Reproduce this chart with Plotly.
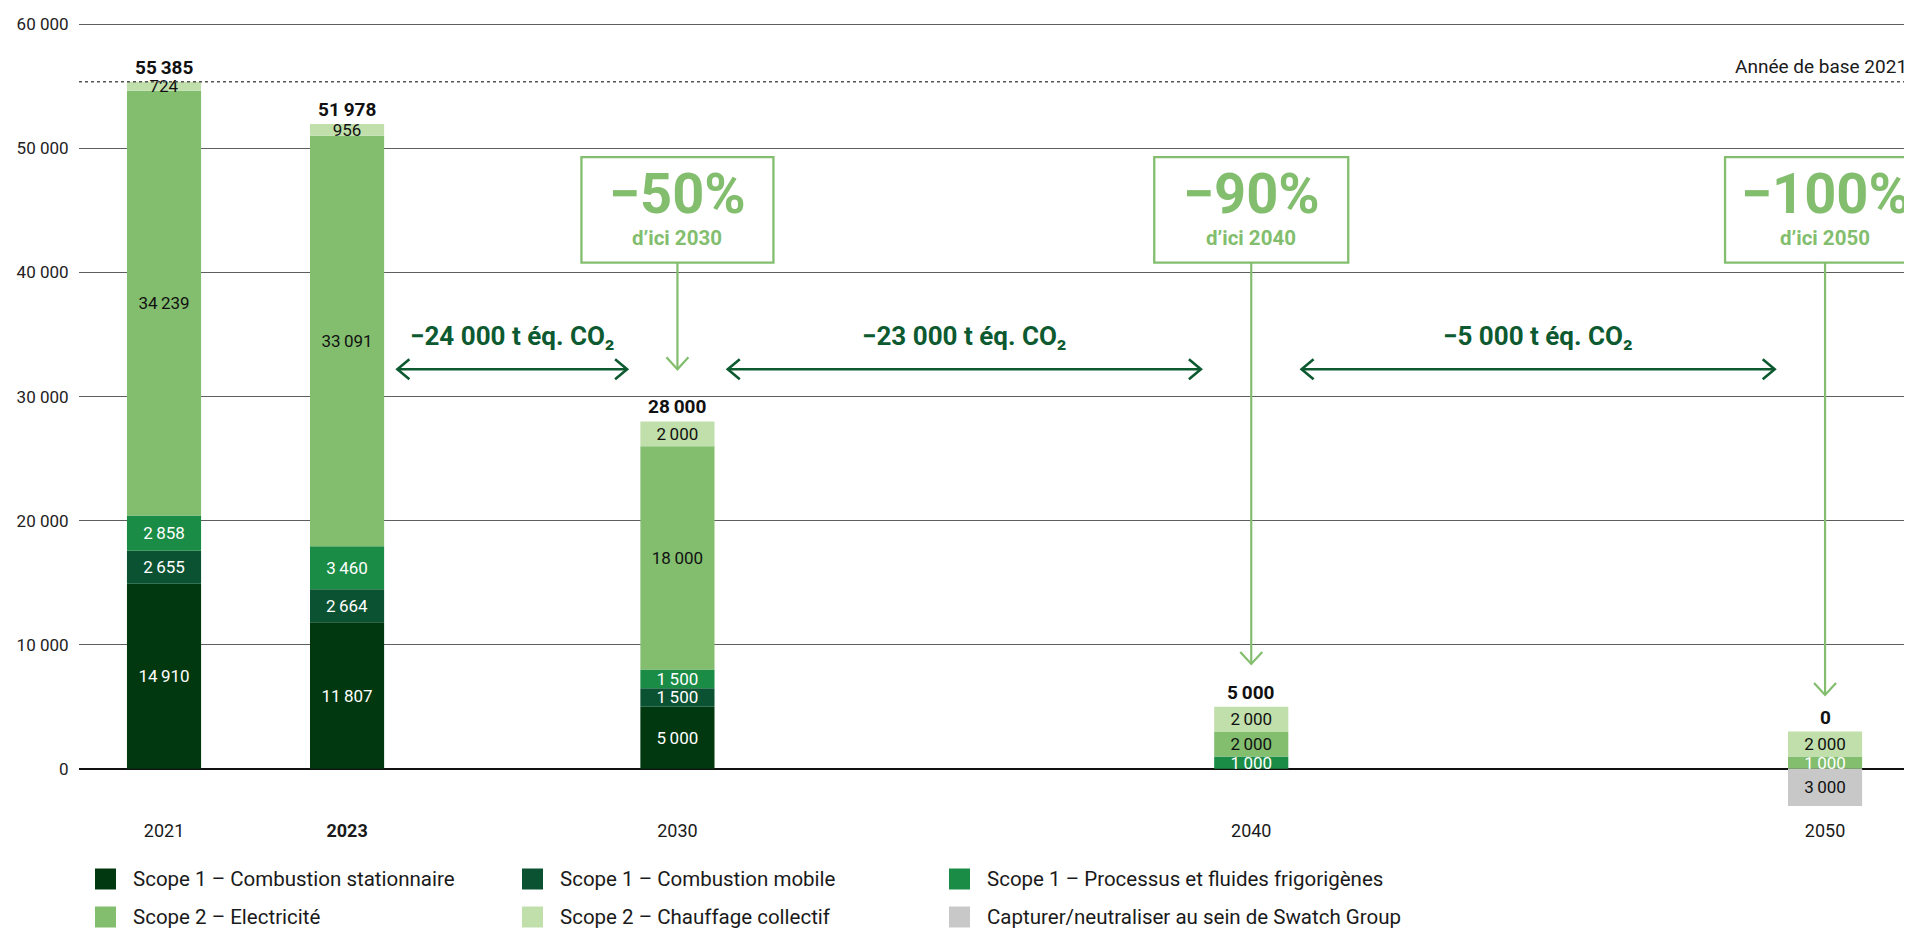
import plotly.graph_objects as go

# ---------------- data ----------------
YEARS = ["2021", "2023", "2030", "2040", "2050"]
X_SLOT = [0.0, 2.0, 5.61, 11.88, 18.15]          # horizontal slot of each year column
BOLD_YEAR = "2023"

SERIES = [
    "Scope 1 – Combustion stationnaire",
    "Scope 1 – Combustion mobile",
    "Scope 1 – Processus et fluides frigorigènes",
    "Scope 2 – Electricité",
    "Scope 2 – Chauffage collectif",
    "Capturer/neutraliser au sein de Swatch Group",
]
stationnaire = [14910, 11807, 5000, None, None]
mobile = [2655, 2664, 1500, None, None]
processus = [2858, 3460, 1500, 1000, None]
electricite = [34239, 33091, 18000, 2000, 1000]
chauffage = [724, 956, 2000, 2000, 2000]
capture = [None, None, None, None, -3000]
TOTALS = [55385, 51978, 28000, 5000, 0]
BASE_YEAR_VALUE = 55385
BASE_YEAR_LABEL = "Année de base 2021"

TARGETS = [("2030", "−50%", "d’ici 2030"), ("2040", "−90%", "d’ici 2040"), ("2050", "−100%", "d’ici 2050")]
REDUCTIONS = [("2023", "2030", "−24 000 t éq. CO₂"),
              ("2030", "2040", "−23 000 t éq. CO₂"),
              ("2040", "2050", "−5 000 t éq. CO₂")]
Y_TICKS = [0, 10000, 20000, 30000, 40000, 50000, 60000]

# ---------------- styles ----------------
FONT = "Roboto"
COLORS = ["#02380f", "#0a5232", "#1a8c45", "#82be6e", "#c0dfab", "#c8c8c8"]
TEXT_COLORS = [
    ["white"] * 5,
    ["white"] * 5,
    ["white"] * 5,
    ["#111", "#111", "#111", "#111", "white"],
    ["#111"] * 5,
    ["#111"] * 5,
]
LIGHT_GREEN = "#82be6e"
DARK_GREEN = "#0d5a31"


def fmt(v, sep="\u2009"):
    return f"{abs(v):,}".replace(",", sep)


fig = go.Figure()
for name, vals, col, tcol in zip(SERIES, [stationnaire, mobile, processus, electricite, chauffage, capture],
                                 COLORS, TEXT_COLORS):
    fig.add_trace(go.Bar(
        x=X_SLOT, y=vals, name=name, width=0.81,
        marker=dict(color=col, line=dict(width=0)),
        text=[fmt(v) if v else "" for v in vals],
        textposition="inside", insidetextanchor="middle", textangle=0,
        textfont=dict(color=tcol, size=17, family=FONT),
        hoverinfo="skip", showlegend=False,
    ))

pos = dict(zip(YEARS, X_SLOT))
annotations = []
shapes = []

# totals above bars
all_series = [stationnaire, mobile, processus, electricite, chauffage, capture]
for i, (xs, tot) in enumerate(zip(X_SLOT, TOTALS)):
    top = sum(s[i] for s in all_series if s[i] is not None and s[i] > 0)
    annotations.append(dict(x=xs, y=top, xref="x", yref="y", text=f"<b>{fmt(tot)}</b>",
                            showarrow=False, yanchor="bottom", yshift=1,
                            font=dict(size=19, color="#111", family=FONT)))

# base year dotted line
shapes.append(dict(type="line", xref="paper", x0=0, x1=1, yref="y", y0=BASE_YEAR_VALUE, y1=BASE_YEAR_VALUE,
                   line=dict(color="#555", width=1.5, dash="dot"), layer="above"))
annotations.append(dict(x=1, xref="paper", y=BASE_YEAR_VALUE, yref="y", text=BASE_YEAR_LABEL,
                        showarrow=False, xanchor="right", yanchor="bottom", xshift=-3, yshift=2,
                        font=dict(size=19, color="#1a1a1a", family=FONT)))

# target boxes with down arrows
BOX_TOP, BOX_BOTTOM = 49300, 40800
BIG_Y, SUB_Y = 46300, 42800
TIP_Y = {"2030": 32200, "2040": 8450, "2050": 5950}
HALF_W = {"2030": 96, "2040": 97, "2050": 100}
for yr, big, sub in TARGETS:
    xs = pos[yr]
    shapes.append(dict(type="rect", xref="x", yref="y", xsizemode="pixel", xanchor=xs,
                       x0=-HALF_W[yr], x1=HALF_W[yr], y0=BOX_BOTTOM, y1=BOX_TOP,
                       line=dict(color=LIGHT_GREEN, width=2.3), fillcolor="rgba(0,0,0,0)", layer="above"))
    annotations.append(dict(x=xs, y=BIG_Y, xref="x", yref="y", text=f"<b>{big}</b>", showarrow=False,
                            font=dict(size=56, color=LIGHT_GREEN, family=FONT)))
    annotations.append(dict(x=xs, y=SUB_Y, xref="x", yref="y", text=f"<b>{sub}</b>", showarrow=False,
                            font=dict(size=20.5, color=LIGHT_GREEN, family=FONT)))
    shapes.append(dict(type="line", xref="x", yref="y", x0=xs, x1=xs, y0=BOX_BOTTOM, y1=TIP_Y[yr],
                       line=dict(color=LIGHT_GREEN, width=2.2), layer="above"))
    shapes.append(dict(type="path", xref="x", yref="y", xsizemode="pixel", ysizemode="pixel",
                       xanchor=xs, yanchor=TIP_Y[yr], path="M -11,12 L 0,0 L 11,12",
                       line=dict(color=LIGHT_GREEN, width=2.2), layer="above"))

# reduction double arrows
ARROW_Y, LABEL_Y, GAP = 32200, 34900, 0.55
for a, b, label in REDUCTIONS:
    x0, x1 = pos[a] + GAP, pos[b] - GAP
    shapes.append(dict(type="line", xref="x", yref="y", x0=x0, x1=x1, y0=ARROW_Y, y1=ARROW_Y,
                       line=dict(color=DARK_GREEN, width=2.6), layer="above"))
    shapes.append(dict(type="path", xref="x", yref="y", xsizemode="pixel", ysizemode="pixel",
                       xanchor=x0, yanchor=ARROW_Y, path="M 12,10 L 0,0 L 12,-10",
                       line=dict(color=DARK_GREEN, width=2.6), layer="above"))
    shapes.append(dict(type="path", xref="x", yref="y", xsizemode="pixel", ysizemode="pixel",
                       xanchor=x1, yanchor=ARROW_Y, path="M -12,10 L 0,0 L -12,-10",
                       line=dict(color=DARK_GREEN, width=2.6), layer="above"))
    annotations.append(dict(x=(x0 + x1) / 2, y=LABEL_Y, xref="x", yref="y", text=f"<b>{label}</b>",
                            showarrow=False, font=dict(size=26, color=DARK_GREEN, family=FONT)))

# page offset of the figure (default body margin) -> size the figure to fill the window
OFF = 8
W, H = 1912 - OFF, 932 - OFF
L, T, B = 79 - OFF, 12 - OFF, 126
PW, PH = W - L, H - T - B

# manual legend (3 per row), positions given in window pixels
COL_X = [95, 522, 949]
ROW_Y = [879, 917]
SQ = 21
for i, (name, col) in enumerate(zip(SERIES, COLORS)):
    cx, cy = COL_X[i % 3] - OFF, ROW_Y[i // 3] - OFF
    shapes.append(dict(type="rect", xref="paper", yref="paper",
                       x0=(cx - L) / PW, x1=(cx + SQ - L) / PW,
                       y0=(H - B - (cy + SQ / 2)) / PH, y1=(H - B - (cy - SQ / 2)) / PH,
                       fillcolor=col, line=dict(width=0)))
    annotations.append(dict(xref="paper", yref="paper", x=(cx + 36 - L) / PW, y=(H - B - cy) / PH,
                            text=name, showarrow=False, xanchor="left", yanchor="middle",
                            font=dict(size=20.5, color="#1a1a1a", family=FONT)))

fig.update_layout(
    width=W, height=H, margin=dict(l=L, r=0, t=T, b=B),
    plot_bgcolor="white", paper_bgcolor="white", barmode="relative", showlegend=False,
    font=dict(family=FONT, color="#1a1a1a"),
    uniformtext=dict(minsize=17, mode="show"),
    shapes=shapes, annotations=annotations,
)
fig.update_xaxes(range=[-0.929, 19.10], tickvals=X_SLOT,
                 ticktext=[f"<b>{y}</b>" if y == BOLD_YEAR else y for y in YEARS],
                 showgrid=False, zeroline=False, showline=False,
                 ticks="outside", ticklen=8, tickcolor="rgba(0,0,0,0)",
                 tickfont=dict(size=18, color="#1a1a1a", family=FONT))
fig.update_yaxes(range=[-3000, 61000], tickvals=Y_TICKS, ticktext=[fmt(v, " ") for v in Y_TICKS],
                 showgrid=True, gridcolor="#5e5e5e", gridwidth=1.3,
                 zeroline=True, zerolinecolor="#111", zerolinewidth=1.5,
                 ticks="outside", ticklen=6, tickcolor="rgba(0,0,0,0)",
                 tickfont=dict(size=17, color="#222", family=FONT))

fig.write_html("out.html")
